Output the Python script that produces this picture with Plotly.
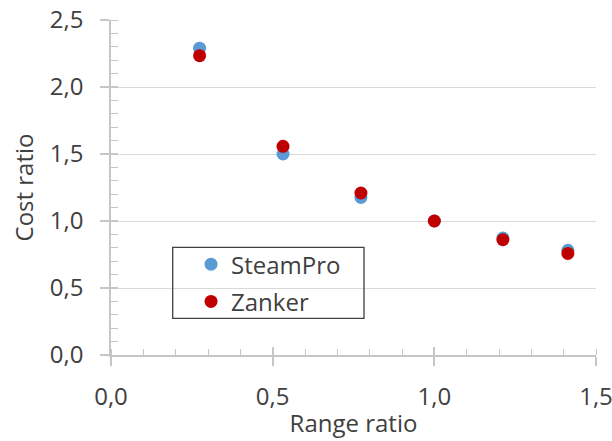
import plotly.graph_objects as go

# Range ratio vs. cost ratio for two cost models
range_ratio = [0.274, 0.532, 0.773, 1.0, 1.212, 1.413]
steampro_cost = [2.29, 1.50, 1.176, 1.0, 0.873, 0.781]
zanker_cost = [2.234, 1.557, 1.209, 1.0, 0.860, 0.758]

x_ticks = [0.0, 0.5, 1.0, 1.5]
y_ticks = [0.0, 0.5, 1.0, 1.5, 2.0, 2.5]

BLUE = "#5B9BD5"
RED = "#C00000"
TEXT = "#404040"
AXIS = "#C6C6C6"
GRID = "#D9D9D9"
FONT = "Open Sans"
FS = 24

fig = go.Figure()
fig.add_trace(go.Scatter(
    x=range_ratio, y=steampro_cost, mode="markers", name="SteamPro",
    legendgroup="a",
    marker=dict(color=BLUE, size=13, line=dict(width=0)),
))
fig.add_trace(go.Scatter(
    x=range_ratio, y=zanker_cost, mode="markers", name="Zanker",
    legendgroup="b",
    marker=dict(color=RED, size=13, line=dict(width=0)),
))
# empty trace carrying the overlay axes used for the inner half of major ticks
fig.add_trace(go.Scatter(x=[], y=[], xaxis="x2", yaxis="y2",
                         showlegend=False, hoverinfo="skip"))

fig.update_layout(
    width=612, height=441,
    margin=dict(l=111, r=16, t=20, b=86, autoexpand=False),
    paper_bgcolor="white", plot_bgcolor="white",
    separators=", ",
    font=dict(family=FONT, size=FS, color=TEXT),
    xaxis=dict(
        range=[0, 1.5], tickvals=x_ticks, tickformat=".1f",
        showgrid=False, zeroline=False, automargin=False,
        showline=True, linecolor=AXIS, linewidth=1.5,
        ticks="outside", ticklen=9, tickwidth=1.5, tickcolor=AXIS,
        minor=dict(ticks="inside", dtick=0.1, ticklen=6, tickwidth=1.2, tickcolor=AXIS),
        tickfont=dict(size=FS, color=TEXT),
        ticklabeloverflow="allow",
        title=dict(text="Range ratio", font=dict(size=FS, color=TEXT), standoff=5),
        ticklabelstandoff=10,
        fixedrange=True,
    ),
    yaxis=dict(
        range=[0, 2.5], tickvals=y_ticks, tickformat=".1f",
        showgrid=True, gridcolor=GRID, gridwidth=1.2, zeroline=False, automargin=False,
        showline=True, linecolor=AXIS, linewidth=1.5,
        ticks="outside", ticklen=9, tickwidth=1.5, tickcolor=AXIS,
        minor=dict(ticks="inside", dtick=0.1, ticklen=7, tickwidth=1.2, tickcolor=AXIS),
        tickfont=dict(size=FS, color=TEXT),
        ticklabeloverflow="allow",
        title=dict(text="Cost ratio", font=dict(size=FS, color=TEXT), standoff=9),
        ticklabelstandoff=12,
        fixedrange=True,
    ),
    xaxis2=dict(
        overlaying="x", anchor="y2", range=[0, 1.5], tickvals=x_ticks,
        showticklabels=False, showgrid=False, zeroline=False, showline=False,
        automargin=False,
        ticks="inside", ticklen=8, tickwidth=1.5, tickcolor=AXIS, side="bottom",
    ),
    yaxis2=dict(
        overlaying="y", anchor="x2", range=[0, 2.5], tickvals=y_ticks,
        showticklabels=False, showgrid=False, zeroline=False, showline=False,
        automargin=False,
        ticks="inside", ticklen=7, tickwidth=1.5, tickcolor=AXIS, side="left",
    ),
    legend=dict(
        x=0.165, y=0.337, xanchor="left", yanchor="top",
        bgcolor="rgba(0,0,0,0)", borderwidth=0,
        font=dict(family=FONT, size=FS, color=TEXT),
        traceorder="grouped", tracegroupgap=3,
    ),
    shapes=[dict(
        type="rect", xref="paper", yref="paper",
        x0=(172.7 - 111) / 485, x1=(364 - 111) / 485,
        y0=(355 - 318.3) / 335, y1=(355 - 247.3) / 335,
        line=dict(color="#404040", width=1.3), fillcolor="rgba(0,0,0,0)",
        layer="above",
    )],
    showlegend=True,
)

fig.write_html("out.html")
